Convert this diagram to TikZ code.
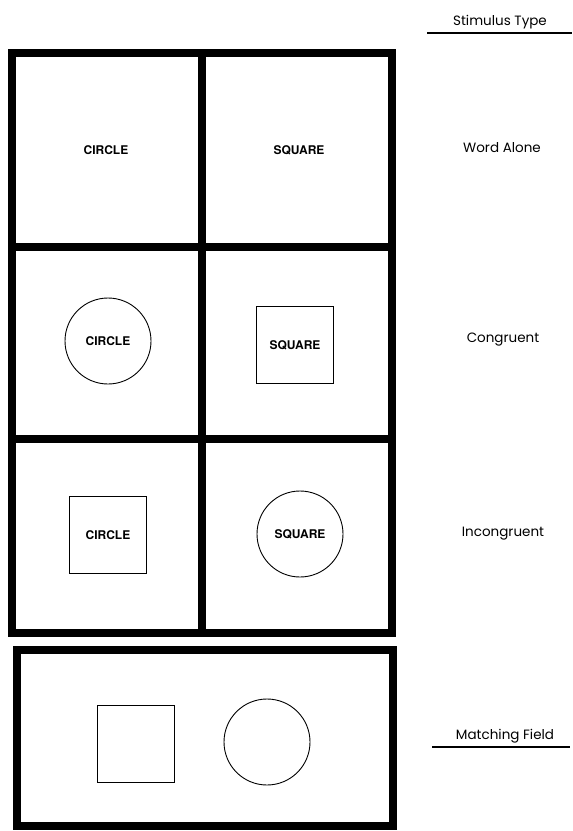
\documentclass[tikz,border=0pt]{standalone}
\usepackage{fontspec}
\newfontfamily\cellfont{TeX Gyre Heros}
\newfontfamily\labelfont{Poppins}
\usetikzlibrary{positioning}
\tikzset{
  every node/.style={inner sep=0pt},
  frame/.style={line width=7.5pt, draw=black},
  word/.style={font=\cellfont\bfseries\fontsize{12}{14}\selectfont},
  ring/.style={word, circle, draw, line width=0.9pt, minimum size=86pt},
  box/.style={word, rectangle, draw, line width=0.8pt, minimum size=77pt},
  rowlabel/.style={font=\labelfont\fontsize{13.5}{16}\selectfont},
  rule/.style={line width=1.3pt}
}
\begin{document}
\begin{tikzpicture}[x=1pt, y=-1pt]
  \useasboundingbox (0,0) rectangle (573,831);
  % stimulus grid
  \draw[frame] (12,53) rectangle (392,633);
  \draw[frame] (202,53) -- (202,633);
  \draw[frame] (12,247) -- (392,247);
  \draw[frame] (12,439) -- (392,439);
  % word alone
  \node[word] (wc) at (106,150) {CIRCLE};
  \node[word] (ws) at (299,150) {SQUARE};
  % congruent
  \node[ring] (cc) at (108,341) {CIRCLE};
  \node[box]  (cs) at (295,345) {SQUARE};
  % incongruent
  \node[box]  (ic) at (108,535) {CIRCLE};
  \node[ring] (is) at (300,534) {SQUARE};
  % matching field
  \draw[frame] (17,650) rectangle (393,826);
  \node[box]  (ms) at (136,744) {};
  \node[ring] (mc) at (267,742) {};
  % labels on the right
  \node[rowlabel] (head) at (500,22) {Stimulus Type};
  \draw[rule] (427,33) -- (572,33);
  \node[rowlabel] (wa) at (502,148) {Word Alone};
  \node[rowlabel] (co) at (503,340) {Congruent};
  \node[rowlabel] (in) at (503,534) {Incongruent};
  \node[rowlabel] (mf) at (505,736) {Matching Field};
  \draw[rule] (432,747) -- (570,747);
\end{tikzpicture}
\end{document}
